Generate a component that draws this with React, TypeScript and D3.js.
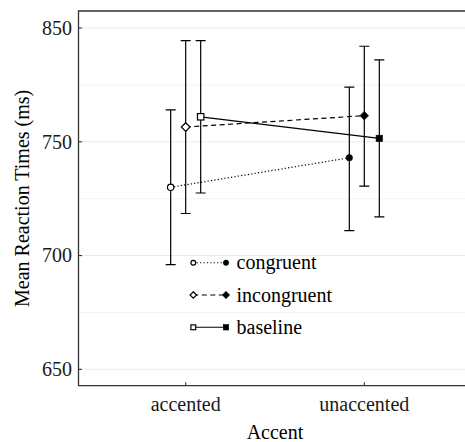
import React from "react";
import * as d3 from "d3";

const categories = ["accented", "unaccented"];
const seriesNames = ["congruent", "incongruent", "baseline"];
const congruentMean = [730, 743];
const congruentLow = [696, 711];
const congruentHigh = [764, 774];
const incongruentMean = [756.5, 761.5];
const incongruentLow = [718.5, 730.5];
const incongruentHigh = [794.5, 792];
const baselineMean = [761, 751.5];
const baselineLow = [727.5, 717];
const baselineHigh = [794.5, 786];
const yTickValues = [650, 700, 750, 800];
const yTickLabels = ["650", "700", "750", "850"];
const yMinorValues = [675, 725, 775];

const W = 465;
const H = 442;
const left = 78.5;
const right = 471.5;
const top = 11;
const bottom = 385.7;
const FONT = "Liberation Serif, Times New Roman, Times, DejaVu Serif, serif";
const txt = { fontFamily: FONT, fontSize: "20px" };

const series = [
  { name: seriesNames[0], mean: congruentMean, lo: congruentLow, hi: congruentHigh, shape: "circle", dash: "1.2,2.2" },
  { name: seriesNames[1], mean: incongruentMean, lo: incongruentLow, hi: incongruentHigh, shape: "diamond", dash: "5,3.5" },
  { name: seriesNames[2], mean: baselineMean, lo: baselineLow, hi: baselineHigh, shape: "square", dash: null },
];

function Marker({ shape, x, y, filled, s }: { shape: string; x: number; y: number; filled: boolean; s: number }) {
  const fill = filled ? "#000" : "#fff";
  const sw = filled ? 0.6 : 1.2;
  if (shape === "circle") return <circle cx={x} cy={y} r={s} fill={fill} stroke="#000" strokeWidth={sw} />;
  if (shape === "diamond") {
    const d = s * 1.35;
    return <path d={`M${x},${y - d}L${x + d},${y}L${x},${y + d}L${x - d},${y}Z`} fill={fill} stroke="#000" strokeWidth={sw} />;
  }
  return <rect x={x - s} y={y - s} width={2 * s} height={2 * s} fill={fill} stroke="#000" strokeWidth={sw} />;
}

export default function App() {
  const x = d3.scalePoint<string>().domain(categories).range([left, right]).padding(0.6);
  const dodge = d3.scalePoint<string>().domain(seriesNames).range([-15, 15]);
  const y = d3.scaleLinear().domain([642.8, 807.5]).range([bottom, top]);
  const line = d3.line<[number, number]>().x((d) => d[0]).y((d) => d[1]);

  return (
    <svg width={W} height={H} style={{ position: "absolute", left: 0, top: 0 }}>
      <defs>
        <clipPath id="panel">
          <rect x={left} y={top} width={W - left} height={bottom - top} />
        </clipPath>
      </defs>
      <rect x={0} y={0} width={W} height={H} fill="#fff" />
      <g clipPath="url(#panel)">
        {yMinorValues.map((v) => (
          <line key={"m" + v} x1={left} x2={W} y1={y(v)} y2={y(v)} stroke="#ebebeb" strokeWidth={0.6} />
        ))}
        {yTickValues.map((v) => (
          <line key={"g" + v} x1={left} x2={W} y1={y(v)} y2={y(v)} stroke="#ebebeb" strokeWidth={1.1} />
        ))}
        {series.map((s) => (
          <g key={s.name + "eb"}>
            {categories.map((c, i) => {
              const cx = (x(c) as number) + (dodge(s.name) as number);
              return (
                <g key={c} stroke="#000" strokeWidth={1.2}>
                  <line x1={cx} x2={cx} y1={y(s.lo[i])} y2={y(s.hi[i])} />
                  <line x1={cx - 5} x2={cx + 5} y1={y(s.lo[i])} y2={y(s.lo[i])} />
                  <line x1={cx - 5} x2={cx + 5} y1={y(s.hi[i])} y2={y(s.hi[i])} />
                </g>
              );
            })}
          </g>
        ))}
        {series.map((s) => {
          const pts: [number, number][] = categories.map((c, i) => [
            (x(c) as number) + (dodge(s.name) as number),
            y(s.mean[i]),
          ]);
          return (
            <path key={s.name + "ln"} d={line(pts) || ""} fill="none" stroke="#000" strokeWidth={1.2}
              strokeDasharray={s.dash || undefined} />
          );
        })}
        {series.map((s) =>
          categories.map((c, i) => (
            <Marker key={s.name + c} shape={s.shape} x={(x(c) as number) + (dodge(s.name) as number)}
              y={y(s.mean[i])} filled={i === 1} s={3.2} />
          ))
        )}
        {series.map((s, i) => {
          const ly = 262.7 + i * 32.3;
          return (
            <g key={s.name + "lg"}>
              <line x1={193.3} x2={226} y1={ly} y2={ly} stroke="#000" strokeWidth={1.1}
                strokeDasharray={s.dash || undefined} />
              <Marker shape={s.shape} x={193.3} y={ly} filled={false} s={2.4} />
              <Marker shape={s.shape} x={226} y={ly} filled={true} s={2.7} />
              <text x={236.5} y={ly + 6.5} style={txt} fill="#000">{s.name}</text>
            </g>
          );
        })}
      </g>
      <path d={`M${W},${top}H${left}V${bottom}H${W}`} fill="none" stroke="#333" strokeWidth={1.3} />
      {yTickValues.map((v, i) => (
        <g key={"t" + v}>
          <line x1={left} x2={left + 3.5} y1={y(v)} y2={y(v)} stroke="#333" strokeWidth={1.1} />
          <text x={72} y={y(v) + 6.8} textAnchor="end" style={txt} fill="#1a1a1a">{yTickLabels[i]}</text>
        </g>
      ))}
      {categories.map((c) => (
        <g key={"x" + c}>
          <line x1={x(c) as number} x2={x(c) as number} y1={bottom} y2={bottom - 3.5} stroke="#333" strokeWidth={1.1} />
          <text x={x(c) as number} y={411} textAnchor="middle" style={txt} fill="#1a1a1a">{c}</text>
        </g>
      ))}
      <text x={275} y={439} textAnchor="middle" style={txt} fill="#000">Accent</text>
      <text transform={`translate(29,${(top + bottom) / 2}) rotate(-90)`} textAnchor="middle" style={txt} fill="#000">
        Mean Reaction Times (ms)
      </text>
    </svg>
  );
}
